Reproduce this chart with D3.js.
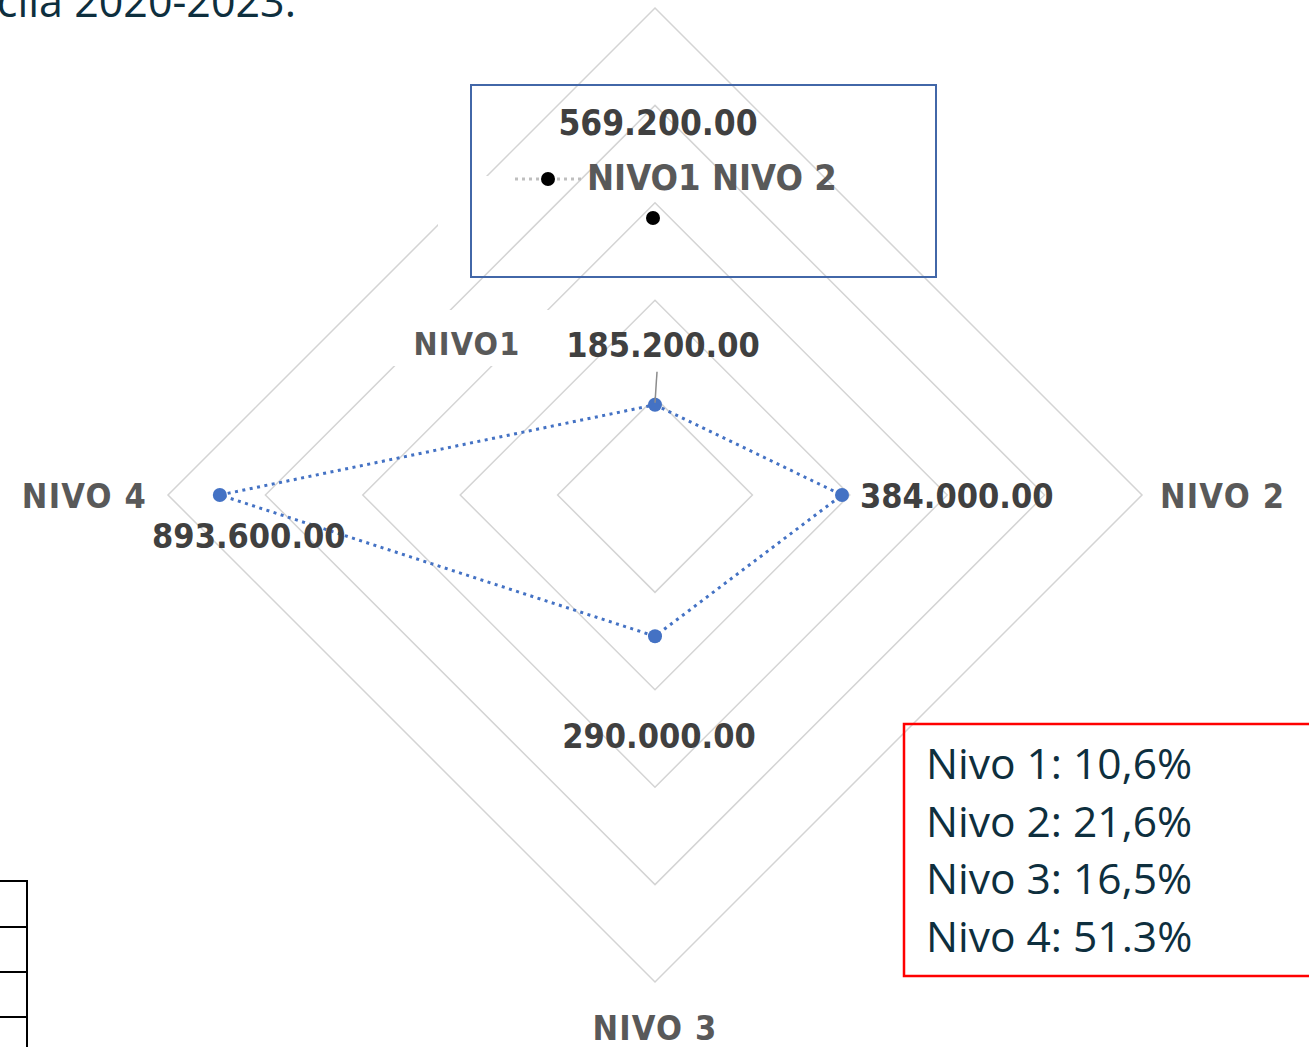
<!DOCTYPE html>
<html>
<head>
<meta charset="utf-8">
<script src="https://cdn.jsdelivr.net/npm/d3@7"></script>
<style>
  html, body { margin: 0; padding: 0; background: #fff; overflow: hidden; }
  .lbl { font-family: "DejaVu Sans Condensed", "DejaVu Sans", sans-serif; font-stretch: condensed; font-weight: bold; }
  .note { font-family: "Open Sans", sans-serif; fill: #0e2f3e; }
</style>
</head>
<body>
<div id="radar"></div>
<script>
// chart data
const categories = ["NIVO1", "NIVO 2", "NIVO 3", "NIVO 4"];
const values = [185200, 384000, 290000, 893600];
const valueLabels = ["185.200.00", "384.000.00", "290.000.00", "893.600.00"];
const ringTicks = [200000, 400000, 600000, 800000, 1000000];
const legendValue = "569.200.00";
const legendName = "NIVO1 NIVO 2";
const shareLines = ["Nivo 1: 10,6%", "Nivo 2: 21,6%", "Nivo 3: 16,5%", "Nivo 4: 51.3%"];
const headText = "cila 2020-2023:";

const width = 1309, height = 1047;
const cx = 655, cy = 495, R = 487;

const svg = d3.select("#radar")
  .append("svg")
  .attr("width", width)
  .attr("height", height);

const r = d3.scaleLinear().domain([0, 1000000]).range([0, R]);
const angle = i => i * Math.PI / 2;

const g = svg.append("g").attr("transform", "translate(" + cx + "," + cy + ")");

// grid rings
const ring = d3.lineRadial()
  .angle((d, i) => angle(i))
  .radius(d => r(d))
  .curve(d3.curveLinearClosed);

g.selectAll(".ring")
  .data(ringTicks)
  .join("path")
  .attr("class", "ring")
  .attr("d", t => ring(categories.map(() => t)))
  .attr("fill", "none")
  .attr("stroke", "#d4d4d4")
  .attr("stroke-width", 1.5);

// white patches hiding parts of the grid (as in the source picture)
svg.append("rect").attr("x", 375).attr("y", 310).attr("width", 187).attr("height", 56).attr("fill", "#fff");
svg.append("rect").attr("x", 438).attr("y", 176).attr("width", 51).attr("height", 51).attr("fill", "#fff");

// category labels
const catPos = [
  { x: 467, y: 355, anchor: "middle", size: 32 },
  { x: cx + R + 18, y: cy + 13, anchor: "start", size: 34 },
  { x: cx, y: cy + R + 58, anchor: "middle", size: 34 },
  { x: cx - R - 21, y: cy + 13, anchor: "end", size: 34 }
];
svg.selectAll(".cat")
  .data(categories)
  .join("text")
  .attr("class", "cat lbl")
  .attr("x", (d, i) => catPos[i].x)
  .attr("y", (d, i) => catPos[i].y)
  .attr("text-anchor", (d, i) => catPos[i].anchor)
  .attr("font-size", (d, i) => catPos[i].size)
  .attr("letter-spacing", 1.2)
  .attr("fill", "#595959")
  .text(d => d);

// legend box
svg.append("rect")
  .attr("x", 471).attr("y", 85)
  .attr("width", 465).attr("height", 192)
  .attr("fill", "none")
  .attr("stroke", "#4267a8")
  .attr("stroke-width", 2);

svg.append("text")
  .attr("class", "lbl")
  .attr("x", 658).attr("y", 135)
  .attr("text-anchor", "middle")
  .attr("font-size", 35)
  .attr("fill", "#404040")
  .text(legendValue);

svg.append("line")
  .attr("x1", 515).attr("x2", 582)
  .attr("y1", 179).attr("y2", 179)
  .attr("stroke", "#bfbfbf")
  .attr("stroke-width", 3)
  .attr("stroke-dasharray", "3 4");

svg.append("circle").attr("cx", 548).attr("cy", 179).attr("r", 7).attr("fill", "#000");
svg.append("circle").attr("cx", 653).attr("cy", 218).attr("r", 7).attr("fill", "#000");

svg.append("text")
  .attr("class", "lbl")
  .attr("x", 587).attr("y", 190)
  .attr("font-size", 36)
  .attr("fill", "#595959")
  .text(legendName);

// series line
const pts = values.map((v, i) => {
  const a = angle(i);
  return [r(v) * Math.sin(a), -r(v) * Math.cos(a)];
});

const seriesLine = d3.lineRadial()
  .angle((d, i) => angle(i))
  .radius(d => r(d))
  .curve(d3.curveLinearClosed);

g.append("path")
  .attr("d", seriesLine(values))
  .attr("fill", "none")
  .attr("stroke", "#4472c4")
  .attr("stroke-width", 3)
  .attr("stroke-dasharray", "3 4.5");

g.selectAll(".dot")
  .data(pts)
  .join("circle")
  .attr("class", "dot")
  .attr("cx", d => d[0])
  .attr("cy", d => d[1])
  .attr("r", 7)
  .attr("fill", "#4472c4");

// leader line for first label
g.append("line")
  .attr("x1", pts[0][0] + 2).attr("y1", pts[0][1] - 33)
  .attr("x2", pts[0][0]).attr("y2", pts[0][1] - 2)
  .attr("stroke", "#8c8c8c")
  .attr("stroke-width", 1.5);

// value labels
const valPos = [
  { dx: 8, dy: -48, anchor: "middle" },
  { dx: 18, dy: 13, anchor: "start" },
  { dx: 4, dy: 112, anchor: "middle" },
  { dx: 29, dy: 53, anchor: "middle" }
];
g.selectAll(".val")
  .data(valueLabels)
  .join("text")
  .attr("class", "val lbl")
  .attr("x", (d, i) => pts[i][0] + valPos[i].dx)
  .attr("y", (d, i) => pts[i][1] + valPos[i].dy)
  .attr("text-anchor", (d, i) => valPos[i].anchor)
  .attr("font-size", 34)
  .attr("fill", "#404040")
  .text(d => d);

// red share box
svg.append("rect")
  .attr("x", 904).attr("y", 724)
  .attr("width", 420).attr("height", 252)
  .attr("fill", "none")
  .attr("stroke", "#ff0000")
  .attr("stroke-width", 2.5);

svg.selectAll(".share")
  .data(shareLines)
  .join("text")
  .attr("class", "share note")
  .attr("x", 926)
  .attr("y", (d, i) => 779 + i * 57.5)
  .attr("font-size", 42.5)
  .text(d => d);

// heading fragment at top
svg.append("text")
  .attr("class", "note")
  .attr("x", 296).attr("y", 17)
  .attr("text-anchor", "end")
  .attr("font-size", 43)
  .text(headText);

// table fragment bottom-left
const tbl = svg.append("g").attr("stroke", "#000").attr("stroke-width", 2);
tbl.append("line").attr("x1", 27).attr("x2", 27).attr("y1", 881).attr("y2", 1047);
[881, 927, 972, 1017].forEach(y => {
  tbl.append("line").attr("x1", 0).attr("x2", 28).attr("y1", y).attr("y2", y);
});
</script>
</body>
</html>
